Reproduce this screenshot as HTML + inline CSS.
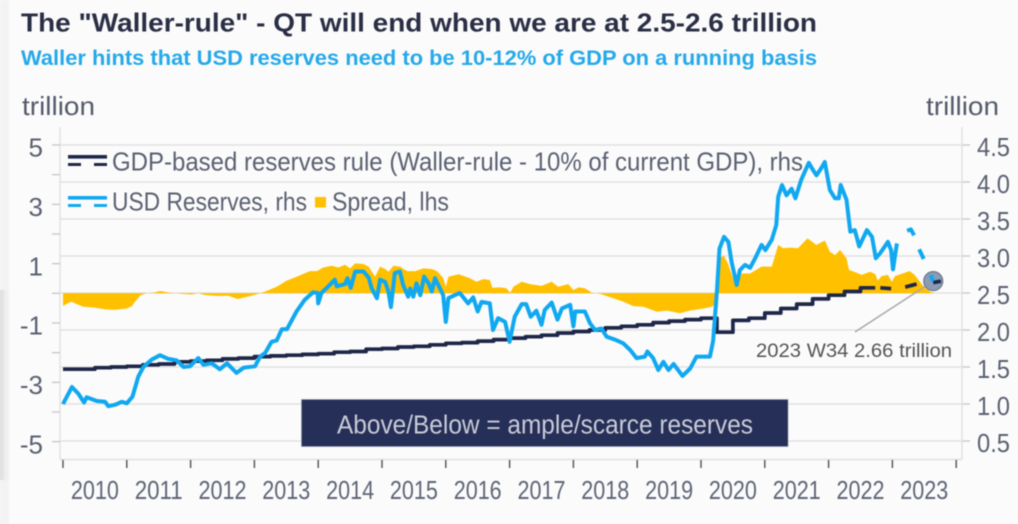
<!DOCTYPE html>
<html lang="en">
<head>
<meta charset="utf-8">
<title>The Waller-rule chart</title>
<style>
html,body{margin:0;padding:0;background:#fbfbfb;}
body{width:1018px;height:524px;overflow:hidden;}
svg{display:block;filter:blur(0.45px);}
text{font-family:"Liberation Sans",sans-serif;}
</style>
</head>
<body>
<svg id="chart" xmlns="http://www.w3.org/2000/svg" width="1018" height="524" viewBox="0 0 1018 524">
  <defs>
    <linearGradient id="edgeShade" x1="0" x2="1" y1="0" y2="0">
      <stop offset="0" stop-color="#d9d9dc"/>
      <stop offset="1" stop-color="#fbfbfb" stop-opacity="0"/>
    </linearGradient>
  </defs>
  <rect x="0" y="0" width="1018" height="524" fill="#fbfbfb"/>
  <rect x="0" y="0" width="9" height="524" fill="#f3f3f5"/>
  <rect x="0" y="290" width="12" height="190" fill="url(#edgeShade)"/>

  <text x="21" y="31.5" font-size="26" font-weight="700" fill="#2a2f45" textLength="796" lengthAdjust="spacingAndGlyphs">The "Waller-rule" - QT will end when we are at 2.5-2.6 trillion</text>
  <text x="21" y="65" font-size="21.5" font-weight="700" fill="#25a9ea" textLength="796" lengthAdjust="spacingAndGlyphs">Waller hints that USD reserves need to be 10-12% of GDP on a running basis</text>
  <text x="22" y="115" font-size="26" fill="#555b6a" textLength="73" lengthAdjust="spacingAndGlyphs">trillion</text>
  <text x="926" y="115" font-size="26" fill="#555b6a" textLength="73" lengthAdjust="spacingAndGlyphs">trillion</text>

  <g id="grid"></g>
  <g id="axes"></g>
  <g id="marks"></g>

  <g>
    <g>
      <rect x="68" y="155" width="39" height="3.6" fill="#1e2749"/>
      <rect x="68" y="163" width="13" height="3" fill="#1e2749"/>
      <rect x="94" y="163" width="13" height="3" fill="#1e2749"/>
      <text x="112" y="170.5" font-size="26" fill="#5b6172" textLength="691" lengthAdjust="spacingAndGlyphs">GDP-based reserves rule (Waller-rule - 10% of current GDP), rhs</text>
    </g>
    <g>
      <rect x="68" y="196" width="39" height="3.6" fill="#10a8f0"/>
      <rect x="68" y="204" width="13" height="3" fill="#10a8f0"/>
      <rect x="94" y="204" width="13" height="3" fill="#10a8f0"/>
      <text x="112" y="210.7" font-size="26" fill="#5b6172" textLength="195" lengthAdjust="spacingAndGlyphs">USD Reserves, rhs</text>
    </g>
    <g>
      <rect x="315" y="197" width="11" height="10.5" fill="#ffc000"/>
      <text x="332" y="210.7" font-size="26" fill="#5b6172" textLength="117" lengthAdjust="spacingAndGlyphs">Spread, lhs</text>
    </g>
  </g>

  <g>
    <rect x="301.5" y="399.5" width="486.5" height="47" fill="#262f57" stroke="#8d93a8" stroke-width="0.6"/>
    <text x="337" y="433.5" font-size="25.5" fill="#c8ccd8" textLength="416" lengthAdjust="spacingAndGlyphs">Above/Below = ample/scarce reserves</text>
  </g>

  <text x="756" y="357" font-size="19" fill="#555555" textLength="196" lengthAdjust="spacingAndGlyphs">2023 W34 2.66 trillion</text>
</svg>

<script>
// ---- Axis tick labels ----
const leftTicks = [5, 4, 3, 2, 1, 0, -1, -2, -3, -4, -5];
const leftLabels = [5, 3, 1, -1, -3, -5];
const rightTicks = ["4.5", "4.0", "3.5", "3.0", "2.5", "2.0", "1.5", "1.0", "0.5"];
const xYears = [2010, 2011, 2012, 2013, 2014, 2015, 2016, 2017, 2018, 2019, 2020, 2021, 2022, 2023];

// ---- USD reserves, rhs (null = gap in the line) ----
const reservesYears = [2010.00,2010.14,2010.24,2010.33,2010.37,2010.53,2010.66,2010.71,2010.82,2010.92,2011.00,2011.09,2011.18,2011.26,2011.39,2011.52,2011.65,2011.78,2011.89,2011.99,2012.12,2012.20,2012.33,2012.46,2012.57,2012.72,2012.83,2013.01,2013.09,2013.17,2013.27,2013.35,2013.43,2013.51,2013.66,2013.79,2013.92,2013.99,2014.00,2014.05,2014.16,2014.26,2014.29,2014.42,2014.46,2014.51,2014.58,2014.71,2014.79,2014.84,2014.92,2014.97,2015.05,2015.10,2015.14,2015.20,2015.28,2015.33,2015.41,2015.44,2015.49,2015.54,2015.60,2015.66,2015.73,2015.78,2015.83,2015.91,2015.96,2016.00,2016.04,2016.14,2016.22,2016.35,2016.43,2016.50,2016.56,2016.69,2016.74,2016.82,2016.93,2017.00,2017.08,2017.19,2017.26,2017.33,2017.42,2017.50,2017.55,2017.66,2017.75,2017.82,2017.95,2018.00,2018.03,2018.18,2018.26,2018.34,2018.44,2018.52,2018.65,2018.78,2018.89,2018.99,2019.12,2019.16,2019.25,2019.33,2019.41,2019.49,2019.57,2019.71,2019.83,2019.93,2020.14,2020.19,2020.25,2020.29,2020.36,2020.43,2020.48,2020.56,2020.61,2020.69,2020.77,2020.85,2020.95,2021.01,2021.11,2021.18,2021.21,2021.27,2021.34,2021.42,2021.48,2021.57,2021.69,2021.75,2021.81,2021.88,2021.94,2022.02,2022.10,2022.16,2022.19,2022.28,2022.34,2022.41,2022.48,2022.60,2022.68,2022.74,2022.81,2022.93,2022.98,2023.01,2023.07,2023.15,2023.23,2023.29,2023.34,2023.38,2023.42,2023.49,2023.55,2023.60,2023.64];
const reservesValues = [1.00,1.23,1.14,1.02,1.09,1.04,1.03,0.97,0.99,1.03,1.01,1.10,1.37,1.50,1.60,1.66,1.61,1.59,1.50,1.51,1.62,1.53,1.55,1.47,1.55,1.42,1.49,1.51,1.64,1.69,1.84,1.86,2.01,2.01,2.25,2.41,2.51,2.50,2.36,2.50,2.59,2.68,2.59,2.62,2.70,2.57,2.79,2.79,2.71,2.56,2.43,2.68,2.65,2.52,2.31,2.77,2.79,2.61,2.45,2.56,2.45,2.63,2.47,2.72,2.63,2.52,2.70,2.56,2.47,2.11,2.43,2.47,2.50,2.36,2.44,2.25,2.38,2.36,2.00,2.16,2.11,1.84,2.18,2.35,2.35,2.18,2.26,2.07,2.27,2.37,2.14,2.29,2.34,2.05,2.25,2.25,2.09,2.00,2.02,1.91,1.87,1.82,1.73,1.62,1.64,1.71,1.62,1.46,1.57,1.46,1.54,1.38,1.48,1.64,1.64,1.85,2.52,3.10,3.26,3.19,2.92,2.61,2.81,2.88,2.84,2.97,3.15,3.08,3.22,3.42,3.80,3.96,3.82,3.91,3.78,4.03,4.26,4.17,4.09,4.18,4.27,3.89,3.78,3.78,3.96,3.76,3.33,3.35,3.13,3.35,3.26,2.97,3.04,3.19,3.08,2.82,3.17,null,3.34,3.36,3.28,null,3.09,2.96,null,2.74,2.66];

// ---- GDP-based rule, rhs: one value per quarter from 2010 Q1 ----
const ruleFirstYear = 2010;
const ruleQuarterly = [1.47,1.47,1.49,1.50,1.51,1.53,1.54,1.57,1.58,1.59,1.61,1.62,1.64,1.65,1.66,1.67,1.68,1.70,1.71,1.74,1.75,1.77,1.78,1.80,1.82,1.83,1.85,1.87,1.89,1.91,1.93,1.96,1.98,2.00,2.03,2.05,2.07,2.10,2.12,2.14,2.16,1.97,2.13,2.16,2.23,2.29,2.35,2.42,2.47,2.52,2.57];
const ruleTailYears = [2022.50,2022.73,2022.81,2022.98,2023.20,2023.38,2023.64,2023.76];
const ruleTailValues = [2.57,2.57,null,2.56,null,2.62,null,2.66];
const ruleTailStarts = [2.57,2.57,2.58,2.64];

// ---- Spread, lhs ----
const spreadYears = [2010.00,2010.03,2010.13,2010.21,2010.32,2010.50,2010.66,2010.81,2011.00,2011.08,2011.13,2011.22,2011.31,2011.42,2011.52,2011.68,2011.86,2012.02,2012.12,2012.23,2012.43,2012.59,2012.74,2012.90,2013.06,2013.17,2013.35,2013.50,2013.66,2013.87,2013.98,2014.08,2014.21,2014.32,2014.42,2014.50,2014.58,2014.71,2014.79,2014.86,2014.89,2014.97,2015.05,2015.10,2015.18,2015.28,2015.39,2015.52,2015.65,2015.78,2015.86,2015.96,2016.00,2016.04,2016.20,2016.38,2016.48,2016.59,2016.69,2016.73,2016.85,2016.95,2017.01,2017.06,2017.19,2017.32,2017.50,2017.66,2017.76,2017.92,2018.00,2018.08,2018.18,2018.29,2018.42,2018.63,2018.78,2018.94,2019.10,2019.31,2019.46,2019.67,2019.83,2020.04,2020.17,2020.20,2020.22,2020.29,2020.36,2020.43,2020.51,2020.56,2020.64,2020.77,2020.95,2021.11,2021.21,2021.29,2021.39,2021.52,2021.67,2021.81,2021.94,2022.02,2022.10,2022.18,2022.28,2022.32,2022.47,2022.52,2022.65,2022.73,2022.77,2022.83,2022.93,2022.99,2023.04,2023.27,2023.35,2023.49,2023.61,2023.66];
const spreadValues = [-0.43,-0.39,-0.28,-0.36,-0.45,-0.48,-0.54,-0.56,-0.51,-0.43,-0.28,-0.06,0,0.02,0.08,0.02,-0.02,-0.04,0,-0.06,-0.09,-0.08,-0.19,-0.11,-0.02,0.06,0.22,0.42,0.56,0.75,0.75,0.87,0.93,0.87,0.96,0.84,1.01,0.99,0.90,0.67,0.56,0.90,0.82,0.73,0.93,0.90,0.75,0.75,0.84,0.82,0.75,0.52,0.22,0.56,0.64,0.51,0.39,0.48,0.45,0.19,0.20,0.17,0.02,0.22,0.39,0.31,0.25,0.39,0.22,0.31,0.11,0.20,0.17,0.02,-0.02,-0.17,-0.28,-0.43,-0.45,-0.62,-0.58,-0.67,-0.58,-0.51,-0.45,-0.40,0,1.18,1.27,0.96,0.45,0.26,0.67,0.67,0.90,0.90,1.63,1.52,1.54,1.52,1.85,1.63,1.78,1.40,1.29,1.46,1.18,0.79,0.67,0.62,0.73,0.65,0.43,0.58,0.62,0.39,0.58,0.75,0.62,0.22,0.03,0];

// ---- Latest observation ----
const latestYear = 2023.64;
const latestValue = 2.66;

// ---- Axis functions ----
const xPos = function (year) { return 63 + (year - 2010) * 63.8; };
const yRight = function (v) { return 145 + (4.5 - v) * 74; };
const yLeft = function (v) { return 293.33 - v * 29.67; };

const SVG_NS = "http://www.w3.org/2000/svg";
function make(tag, attrs, parent) {
  const el = document.createElementNS(SVG_NS, tag);
  Object.keys(attrs).forEach(function (k) { el.setAttribute(k, attrs[k]); });
  parent.appendChild(el);
  return el;
}
const gridG = document.getElementById("grid");
const axesG = document.getElementById("axes");
const marksG = document.getElementById("marks");

// Grid and right axis
rightTicks.forEach(function (t) {
  const y = yRight(parseFloat(t));
  const line = make("line", {x1: 60, x2: 962, y1: y, y2: y, stroke: "#dddddd", "stroke-width": 1.3}, gridG);
  
  
  const tick = make("line", {x1: 962, x2: 970, y1: y, y2: y, stroke: "#c6c6c6", "stroke-width": 1.3}, axesG);
  
  
  const label = make("text", {x: 1010, y: y + 11, "text-anchor": "end", "font-size": 26, fill: "#5b6172", textLength: 33, lengthAdjust: "spacingAndGlyphs"}, axesG);
  label.textContent = t;
  
  
});

// Axis lines
const axisLeft = make("line", {x1: 60, x2: 60, y1: 127, y2: 459.5, stroke: "#e0e0e0", "stroke-width": 1.4}, axesG);


const axisRight = make("line", {x1: 962, x2: 962, y1: 127, y2: 459.5, stroke: "#e0e0e0", "stroke-width": 1.4}, axesG);


const axisBottom = make("line", {x1: 60, x2: 962, y1: 459.5, y2: 459.5, stroke: "#e0e0e0", "stroke-width": 1.4}, axesG);



// Left axis
leftTicks.forEach(function (t) {
  const y = yLeft(t);
  const tick = make("line", {x1: 52, x2: 60, y1: y, y2: y, stroke: "#c6c6c6", "stroke-width": 1.3}, axesG);
  
  
});
leftLabels.forEach(function (t) {
  const label = make("text", {x: 43, y: yLeft(t) + 11.7, "text-anchor": "end", "font-size": 26, fill: "#5b6172"}, axesG);
  label.textContent = String(t);
  
  
});

// X axis
xYears.concat([xYears[xYears.length - 1] + 1]).forEach(function (yr) {
  const x = xPos(yr);
  const tick = make("line", {x1: x, x2: x, y1: 460, y2: 468, stroke: "#555a68", "stroke-width": 1.5}, axesG);
  
  
});
xYears.forEach(function (yr) {
  const label = make("text", {x: xPos(yr + 0.5) - 24, y: 499, "font-size": 26, fill: "#5f6577", textLength: 48, lengthAdjust: "spacingAndGlyphs"}, axesG);
  label.textContent = String(yr);
  
  
});

// Spread area
let spreadD = "M" + xPos(spreadYears[0]).toFixed(1) + " " + yLeft(0).toFixed(1);
spreadYears.forEach(function (yr, i) {
  spreadD += "L" + xPos(yr).toFixed(1) + " " + yLeft(spreadValues[i]).toFixed(1);
});
spreadD += "L" + xPos(spreadYears[spreadYears.length - 1]).toFixed(1) + " " + yLeft(0).toFixed(1) + "Z";
const spreadArea = make("path", {d: spreadD, fill: "#ffc000", stroke: "none"}, marksG);



// Leader line and latest marker
const leader = make("line", {x1: 855, y1: 332, x2: xPos(latestYear), y2: yRight(latestValue), stroke: "#a8a8a8", "stroke-width": 1.5}, marksG);


const marker = make("circle", {cx: xPos(latestYear), cy: yRight(latestValue), r: 9.5, fill: "#8b9bb5", stroke: "#6d7686", "stroke-width": 1.2}, marksG);



// Rule as quarterly steps
let ruleD = "";
ruleQuarterly.forEach(function (v, i) {
  const x0 = xPos(ruleFirstYear + i / 4);
  const y = yRight(v);
  ruleD += (i === 0 ? "M" : "L") + x0.toFixed(1) + " " + y.toFixed(1);
  if (i < ruleQuarterly.length - 1) {
    ruleD += "L" + xPos(ruleFirstYear + (i + 1) / 4).toFixed(1) + " " + y.toFixed(1);
  }
});
// Forecast dashes of the rule
ruleTailYears.forEach(function (yr, i) {
  const v = ruleTailValues[i];
  if (v === null) { ruleD += "M" + xPos(yr).toFixed(1) + " " + yRight(ruleTailStarts[Math.floor(i / 2)]).toFixed(1); }
  else { ruleD += "L" + xPos(yr).toFixed(1) + " " + yRight(v).toFixed(1); }
});
const ruleLine = make("path", {d: ruleD, fill: "none", stroke: "#1e2749", "stroke-width": 3.7, "stroke-linejoin": "round"}, marksG);



// Reserves line, broken at nulls
let resD = "";
let penDown = false;
reservesYears.forEach(function (yr, i) {
  const v = reservesValues[i];
  if (v === null) { penDown = false; return; }
  resD += (penDown ? "L" : "M") + xPos(yr).toFixed(1) + " " + yRight(v).toFixed(1);
  penDown = true;
});
const resLine = make("path", {d: resD, fill: "none", stroke: "#10a8f0", "stroke-width": 4, "stroke-linejoin": "round"}, marksG);


</script>
</body>
</html>
